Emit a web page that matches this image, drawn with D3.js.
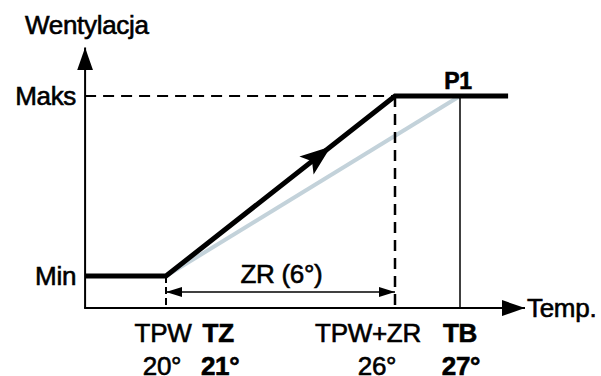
<!DOCTYPE html>
<html>
<head>
<meta charset="utf-8">
<script src="https://cdn.jsdelivr.net/npm/d3@7"></script>
<style>
  html, body { margin: 0; padding: 0; background: #fff; }
  svg { display: block; }
  text { font-family: "Liberation Sans", Arial, sans-serif; fill: #000; stroke: #000; stroke-width: 0.6px; letter-spacing: -0.3px; }
</style>
</head>
<body>
<svg id="chart" width="601" height="376"></svg>
<script>
// ---- data ----
const tempLabels = ["TPW", "TZ", "TPW+ZR", "TB"];
const tempValues = [20, 21, 26, 27];
const tempBold = [false, true, false, true];
const ventLabels = ["Min", "Maks"];
const ventValues = [0, 100];
const axisTempRange = [17.88, 28];
const axisVentRange = [-17.8, 127];
const profileTemps = [17.88, 20, 26, 27.74];   // thick black control line
const profileVent = [0, 0, 100, 100];
const grayTemps = [20, 27];                    // light reference line to P1
const grayVent = [0, 100];
const zrRange = [20, 26];
const zrLabel = "ZR (6°)";
const pointLabel = "P1";
const arrowFraction = 0.72;

// ---- scales ----
const x = d3.scaleLinear().domain([20, 26, 27]).range([166, 395, 460]);
const y = d3.scaleLinear().domain([0, 100]).range([276, 96]);

const svg = d3.select("#chart");
const FS = 26;

// markers
const defs = svg.append("defs");
defs.append("marker").attr("id", "axArrow").attr("viewBox", "0 -8 23 16")
  .attr("refX", 23).attr("refY", 0).attr("markerWidth", 23).attr("markerHeight", 16)
  .attr("markerUnits", "userSpaceOnUse").attr("orient", "auto")
  .append("path").attr("d", "M0,-8L23,0L0,8Z").attr("fill", "#000");
defs.append("marker").attr("id", "zrEnd").attr("viewBox", "0 -5 16 10")
  .attr("refX", 16).attr("refY", 0).attr("markerWidth", 16).attr("markerHeight", 10)
  .attr("markerUnits", "userSpaceOnUse").attr("orient", "auto-start-reverse")
  .append("path").attr("d", "M0,-5L16,0L0,5Z").attr("fill", "#000");

const x0 = x(axisTempRange[0]);
const y0 = y(axisVentRange[0]);

// gray reference line
const line = d3.line().x(d => x(d[0])).y(d => y(d[1]));
svg.append("path")
  .attr("d", line(d3.zip(grayTemps, grayVent)))
  .attr("fill", "none").attr("stroke", "#c3d2da").attr("stroke-width", 4);

// dashed guides
const dash = "11,7";
svg.append("line").attr("x1", x0).attr("x2", x(zrRange[1]))
  .attr("y1", y(100)).attr("y2", y(100))
  .attr("stroke", "#000").attr("stroke-width", 2).attr("stroke-dasharray", dash);
svg.append("line").attr("x1", x(zrRange[1])).attr("x2", x(zrRange[1]))
  .attr("y1", y(100)).attr("y2", y0)
  .attr("stroke", "#000").attr("stroke-width", 2.5).attr("stroke-dasharray", dash);
svg.append("line").attr("x1", x(zrRange[0])).attr("x2", x(zrRange[0]))
  .attr("y1", y(0)).attr("y2", y0)
  .attr("stroke", "#000").attr("stroke-width", 2).attr("stroke-dasharray", "7,4");

// TB vertical
svg.append("line").attr("x1", x(27)).attr("x2", x(27))
  .attr("y1", y(100)).attr("y2", y0)
  .attr("stroke", "#000").attr("stroke-width", 1.5);

// axes
svg.append("line").attr("x1", x0).attr("x2", x0)
  .attr("y1", y0).attr("y2", y(axisVentRange[1]))
  .attr("stroke", "#000").attr("stroke-width", 2).attr("marker-end", "url(#axArrow)");
svg.append("line").attr("x1", x0 - 1).attr("x2", x(axisTempRange[1]))
  .attr("y1", y0).attr("y2", y0)
  .attr("stroke", "#000").attr("stroke-width", 2).attr("marker-end", "url(#axArrow)");

// thick profile
svg.append("path")
  .attr("d", line(d3.zip(profileTemps, profileVent)))
  .attr("fill", "none").attr("stroke", "#000").attr("stroke-width", 5)
  .attr("stroke-linejoin", "miter");

// direction arrow on the ramp
const ax1 = x(zrRange[0]), ay1 = y(0), ax2 = x(zrRange[1]), ay2 = y(100);
const tipX = ax1 + (ax2 - ax1) * arrowFraction, tipY = ay1 + (ay2 - ay1) * arrowFraction;
const ang = Math.atan2(ay2 - ay1, ax2 - ax1) * 180 / Math.PI;
svg.append("path")
  .attr("d", "M0,0L-31,-11.5L-24,0L-31,11.5Z")
  .attr("transform", `translate(${tipX},${tipY}) rotate(${ang})`)
  .attr("fill", "#000");

// ZR dimension arrow
const zrY = y(0) + 16;
svg.append("line").attr("x1", x(zrRange[0])).attr("x2", x(zrRange[1]))
  .attr("y1", zrY).attr("y2", zrY)
  .attr("stroke", "#000").attr("stroke-width", 1.5)
  .attr("marker-start", "url(#zrEnd)").attr("marker-end", "url(#zrEnd)");
svg.append("text").attr("x", (x(zrRange[0]) + x(zrRange[1])) / 2 + 1).attr("y", zrY - 9)
  .attr("text-anchor", "middle").attr("font-size", FS).text(zrLabel);

// y labels
svg.append("text").attr("x", 25).attr("y", 34).attr("font-size", FS).text("Wentylacja");
svg.selectAll(".vlab").data(ventLabels).enter().append("text")
  .attr("x", x0 - 9).attr("y", (d, i) => y(ventValues[i]) + 9)
  .attr("text-anchor", "end").attr("font-size", FS).text(d => d);

// x axis title
svg.append("text").attr("x", x(axisTempRange[1]) + 2).attr("y", y0 + 9)
  .attr("font-size", FS).text("Temp.");

// P1
svg.append("text").attr("x", x(27) - 2).attr("y", y(100) - 7)
  .attr("text-anchor", "middle").attr("font-size", 23).attr("font-weight", "bold").text(pointLabel);

// bottom labels
const labOff = [-3, 14, -27, 0];
const valOff = [-4, 16, -18, 1];
const g = svg.selectAll(".tl").data(tempLabels).enter();
g.append("text")
  .attr("x", (d, i) => x(tempValues[i]) + labOff[i]).attr("y", 342)
  .attr("text-anchor", "middle").attr("font-size", FS)
  .attr("font-weight", (d, i) => tempBold[i] ? "bold" : "normal").text(d => d);
g.append("text")
  .attr("x", (d, i) => x(tempValues[i]) + valOff[i]).attr("y", 375)
  .attr("text-anchor", "middle").attr("font-size", FS)
  .attr("font-weight", (d, i) => tempBold[i] ? "bold" : "normal").text((d, i) => tempValues[i] + "°");
</script>
</body>
</html>
